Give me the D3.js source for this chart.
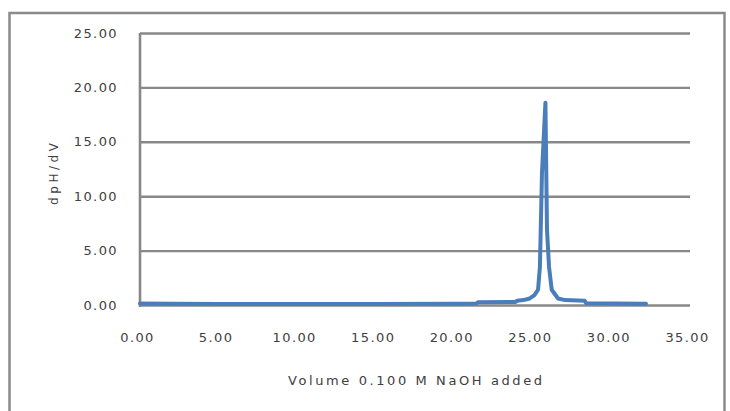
<!DOCTYPE html>
<html>
<head>
<meta charset="utf-8">
<script src="https://cdn.jsdelivr.net/npm/d3@7"></script>
<style>
  body { margin: 0; background: #fff; }
  text { font-family: "DejaVu Sans", sans-serif; fill: #404040; }
</style>
</head>
<body>
<div id="chart"></div>
<script>
// titration derivative curve
var volume = [0, 2, 5, 10, 15, 20, 21.4, 21.5, 23.9, 24.0, 24.4, 24.8, 25.1, 25.33, 25.45, 25.58, 25.8, 25.9, 26.03, 26.2, 26.6, 27.05, 28.3, 28.4, 32.2];
var dpHdV  = [0.13, 0.12, 0.1, 0.1, 0.1, 0.12, 0.14, 0.25, 0.28, 0.4, 0.45, 0.6, 0.9, 1.4, 3.5, 12.1, 18.6, 6.9, 3.5, 1.4, 0.6, 0.45, 0.38, 0.15, 0.12];
var xTicks = [0, 5, 10, 15, 20, 25, 30, 35];
var yTicks = [0, 5, 10, 15, 20, 25];

var data = volume.map(function (v, i) { return { v: v, d: dpHdV[i] }; });

var W = 730, H = 411;
var margin = { top: 33, right: 40, bottom: 106, left: 140 },
  width = W - margin.left - margin.right,
  height = H - margin.top - margin.bottom;

var root = d3.select("#chart")
  .append("svg")
  .attr("width", W)
  .attr("height", H);

// outer chart frame
root.append("rect")
  .attr("x", 9.5)
  .attr("y", 13)
  .attr("width", 715)
  .attr("height", 420)
  .attr("fill", "none")
  .attr("stroke", "#8a8a8a")
  .attr("stroke-width", 2.5);

var svg = root.append("g")
  .attr("transform", "translate(" + margin.left + "," + margin.top + ")");

var x = d3.scaleLinear().domain([0, 35]).range([0, width]);
var y = d3.scaleLinear().domain([0, 25]).range([height, 0]);

// horizontal gridlines
svg.append("g")
  .call(d3.axisLeft(y).tickValues(yTicks).tickSize(-width).tickFormat(""))
  .call(function (g) {
    g.select(".domain").remove();
    g.selectAll("line").attr("stroke", "#888").attr("stroke-width", 2.4);
  });

// left axis line
svg.append("line")
  .attr("x1", 0).attr("x2", 0)
  .attr("y1", 0).attr("y2", height + 2)
  .attr("stroke", "#888")
  .attr("stroke-width", 2.6);

// y tick labels
svg.append("g")
  .call(d3.axisLeft(y).tickValues(yTicks).tickSize(0).tickPadding(22).tickFormat(d3.format(".2f")))
  .call(function (g) {
    g.select(".domain").remove();
    g.selectAll("text")
      .style("font-size", "13px")
      .style("letter-spacing", "1.4px")
      .style("font-family", "DejaVu Sans")
      .attr("fill", "#404040");
  });

// x tick labels
svg.append("g")
  .attr("transform", "translate(-3," + height + ")")
  .call(d3.axisBottom(x).tickValues(xTicks).tickSize(0).tickPadding(28).tickFormat(d3.format(".2f")))
  .call(function (g) {
    g.select(".domain").remove();
    g.selectAll("text")
      .style("font-size", "13px")
      .style("letter-spacing", "1.4px")
      .style("font-family", "DejaVu Sans")
      .attr("fill", "#404040");
  });

// data line
var line = d3.line()
  .x(function (d) { return x(d.v); })
  .y(function (d) { return y(d.d); });

svg.append("path")
  .datum(data)
  .attr("fill", "none")
  .attr("stroke", "#4a7ebb")
  .attr("stroke-width", 4)
  .attr("stroke-linejoin", "round")
  .attr("stroke-linecap", "round")
  .attr("d", line);

// axis titles
svg.append("text")
  .attr("x", 275)
  .attr("y", height + 80)
  .attr("text-anchor", "middle")
  .attr("textLength", 254)
  .attr("lengthAdjust", "spacing")
  .style("font-size", "13px")
  .text("Volume 0.100 M NaOH added");

svg.append("text")
  .attr("transform", "translate(-82,141) rotate(-90)")
  .attr("text-anchor", "middle")
  .attr("textLength", 62)
  .attr("lengthAdjust", "spacing")
  .style("font-size", "12px")
  .text("dpH/dV");
</script>
</body>
</html>
